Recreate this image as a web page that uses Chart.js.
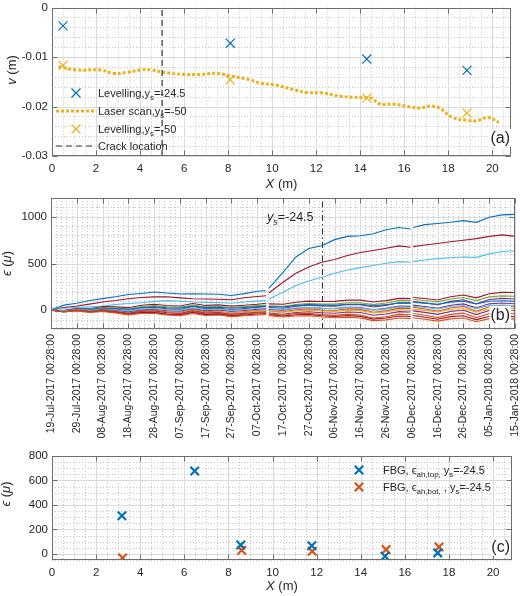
<!DOCTYPE html>
<html>
<head>
<meta charset="utf-8">
<script src="https://cdn.jsdelivr.net/npm/chart.js@4.4.1/dist/chart.umd.min.js"></script>
<style>
  html, body { margin: 0; padding: 0; background: #fff; }
  #wrap { position: relative; width: 520px; height: 596px; }
  #wrap canvas { position: absolute; left: 0; top: 0; }
</style>
</head>
<body>
<div id="wrap">
  <canvas id="chartA" width="520" height="596"></canvas>
  <canvas id="chartB" width="520" height="596"></canvas>
  <canvas id="chartC" width="520" height="596"></canvas>
</div>
<script>
// ---- (a) vertical displacement v along X ----
const levelX = [0.5, 8.1, 14.3, 18.85];
const levelTop = [-0.0037, -0.0072, -0.0104, -0.0127];   // ys = -24.5
const levelBot = [-0.0117, -0.0146, -0.0183, -0.0213];   // ys = -50
const scanX = [0.3, 1.1, 2.2, 2.8, 3.4, 4.0, 4.5, 5.1, 6.0, 6.7, 7.5, 8.2, 9.0, 9.5, 10.1, 11.0,
               11.6, 12.2, 13.1, 14.0, 14.5, 14.9, 15.5, 16.3, 16.7, 17.2, 17.6, 18.2, 18.9, 19.3, 19.8, 20.3];
const scanV = [-0.0119, -0.0126, -0.0126, -0.0133, -0.0131, -0.0126, -0.0126, -0.0131, -0.0135, -0.0135,
               -0.0133, -0.0139, -0.0146, -0.0153, -0.0156, -0.0166, -0.0172, -0.0172, -0.0179, -0.0182,
               -0.0183, -0.0195, -0.0195, -0.0201, -0.0203, -0.0199, -0.0203, -0.0222, -0.0228, -0.0229,
               -0.0222, -0.0232];
const crackX = 5;
const xTicks = [0, 2, 4, 6, 8, 10, 12, 14, 16, 18, 20];
const vTicks = [0, -0.01, -0.02, -0.03];

// ---- (b) strain history, days after 19-Jul-2017 00:28 (null = logger gap) ----
const dateLabels = ['19-Jul-2017 00:28:00', '29-Jul-2017 00:28:00', '08-Aug-2017 00:28:00', '18-Aug-2017 00:28:00',
  '28-Aug-2017 00:28:00', '07-Sep-2017 00:28:00', '17-Sep-2017 00:28:00', '27-Sep-2017 00:28:00',
  '07-Oct-2017 00:28:00', '17-Oct-2017 00:28:00', '27-Oct-2017 00:28:00', '06-Nov-2017 00:28:00',
  '16-Nov-2017 00:28:00', '26-Nov-2017 00:28:00', '06-Dec-2017 00:28:00', '16-Dec-2017 00:28:00',
  '26-Dec-2017 00:28:00', '05-Jan-2018 00:28:00', '15-Jan-2018 00:28:00'];
const days = [0, 5, 10, 15, 20, 25, 30, 35, 40, 45, 50, 55, 60, 65, 70, 75, 80, 83.5, 84, 84.5, 90, 95, 100,
              105, 110, 115, 120, 125, 130, 135, 139.5, 140, 140.5, 145, 150, 155, 160, 165, 170, 175, 180];
const strainA = [5, 55, 75, 105, 125, 145, 168, 180, 195, 185, 174, 176, 174, 172, 158, 178, 203, 209, null, 235,
  406, 570, 660, 690, 755, 790, 797, 818, 860, 885, 869, null, 885, 915, 928, 941, 958, 940, 995, 1020, 1025];
const strainB = [5, 28, 45, 66, 88, 104, 124, 136, 143, 145, 133, 124, 121, 118, 112, 134, 147, 156, null, 185,
  299, 395, 462, 513, 543, 585, 617, 639, 663, 688, 673, null, 680, 697, 714, 732, 748, 766, 790, 806, 790];
const strainC = [5, 22, 30, 36, 45, 60, 72, 80, 95, 103, 98, 88, 85, 84, 76, 88, 98, 103, null, 120,
  192, 265, 312, 353, 395, 430, 456, 478, 503, 520, 513, null, 520, 538, 552, 561, 570, 566, 603, 628, 637];
const s1 = [0, -2, 20, 17, 40, 36, 28, 54, 65, 51, 46, 72, 52, 58, 44, 54, 65, 75, null, 68,
  65, 86, 98, 94, 95, 109, 109, 88, 103, 127, 125, null, 137, 126, 110, 144, 163, 133, 177, 191, 190];
const s2 = [0, -5, 15, 10, 30, 25, 15, 40, 50, 36, 31, 57, 37, 43, 29, 39, 50, 57, null, 49,
  43, 62, 72, 66, 66, 80, 80, 61, 77, 103, 103, null, 115, 104, 90, 121, 137, 103, 143, 154, 150];
const s3 = [0, -9, 11, 2, 22, 13, -3, 24, 32, 15, 9, 40, 16, 23, 6, 18, 31, 40, null, 30,
  22, 44, 55, 47, 45, 62, 60, 35, 52, 81, 79, null, 93, 79, 60, 95, 112, 69, 116, 127, 120];
const s4 = [0, -4, 12, 7, 23, 19, 11, 30, 38, 27, 23, 44, 28, 33, 22, 30, 39, 45, null, 39,
  35, 52, 60, 55, 52, 64, 64, 48, 60, 79, 77, null, 86, 77, 64, 87, 97, 67, 97, 102, 95];
const s5 = [0, -11, 6, -6, 11, 0, -17, 6, 11, -5, -10, 19, -4, 3, -13, -2, 11, 18, null, 9,
  1, 22, 30, 22, 19, 33, 30, 5, 20, 46, 42, null, 55, 41, 22, 54, 68, 27, 69, 78, 70];
const s6 = [0, -8, 8, -1, 14, 6, -6, 14, 19, 6, 2, 26, 7, 13, 0, 9, 20, 25, null, 17,
  9, 24, 29, 22, 18, 29, 25, 4, 15, 36, 32, null, 42, 30, 14, 40, 51, 17, 51, 57, 50];
const s7 = [0, -14, 4, -11, 8, -6, -28, -2, 3, -17, -23, 10, -17, -10, -30, -17, -3, 5, null, -7,
  -18, 5, 13, 3, -2, 15, 10, -21, -6, 23, 18, null, 32, 14, -10, 25, 40, -10, 38, 46, 35];
const s8 = [0, -13, 0, -13, 0, -13, -30, -13, -10, -24, -29, -3, -23, -17, -31, -21, -10, -4, null, -13,
  -22, -6, 0, -8, -12, -1, -5, -28, -17, 5, 1, null, 12, -1, -19, 8, 19, -19, 17, 24, 15];
const s9 = [0, -15, 1, -14, 2, -13, -33, -12, -8, -27, -34, -5, -30, -25, -44, -33, -22, -17, null, -29,
  -42, -23, -16, -27, -32, -19, -24, -53, -39, -14, -19, null, -6, -22, -44, -13, 1, -46, -2, 5, -5];
const s10 = [0, -17, -1, -18, -2, -19, -43, -19, -17, -38, -44, -12, -39, -33, -54, -41, -28, -24, null, -38,
  -53, -35, -31, -46, -54, -41, -50, -83, -69, -41, -47, null, -34, -53, -78, -44, -30, -81, -35, -28, -40];
const s11 = [0, -15, -3, -19, -7, -22, -43, -25, -24, -42, -49, -22, -46, -41, -60, -50, -39, -36, null, -48,
  -61, -47, -44, -58, -66, -57, -65, -94, -83, -61, -67, null, -56, -74, -96, -68, -58, -102, -63, -59, -70];
const s12 = [0, -16, -6, -22, -13, -28, -49, -34, -35, -51, -58, -34, -55, -51, -68, -59, -50, -47, null, -59,
  -72, -61, -59, -72, -80, -74, -82, -110, -102, -83, -89, null, -79, -95, -116, -92, -82, -123, -89, -84, -95];
const crackDay = 105.3;
const strainTicks = [0, 500, 1000];

// ---- (c) FBG strain along X ----
const fbgTopX = [3.17, 6.47, 8.56, 11.78, 15.1, 17.49];
const fbgTop = [311, 678, 73, 67, -19, 8];
const fbgBotX = [3.2, 8.6, 11.8, 15.15, 17.55];
const fbgBot = [-33, 29, 21, 35, 57];
const fbgTicks = [0, 200, 400, 600, 800];

const BLUE = '#0072BD', ORANGE = '#D95319', GOLD = '#EDB120', PURPLE = '#7E2F8E',
      GREEN = '#77AC30', CYAN = '#4DBEEE', WINE = '#A2142F';
const FONT = '"Liberation Sans", Arial, Helvetica, sans-serif';
const INK = '#262626';

Chart.defaults.font.family = FONT;
Chart.defaults.color = INK;

const pts = (xs, ys) => xs.map((v, i) => ({x: v, y: ys[i]}));

function fontFor(st, size) {
  const sub = st.includes('s');
  return (st.includes('i') ? 'italic ' : '') + (sub ? size * 0.72 : size) + 'px ' + FONT;
}
function richWidth(ctx, parts, size) {
  let w = 0;
  parts.forEach(([t, st]) => { ctx.font = fontFor(st, size); w += ctx.measureText(t).width; });
  return w;
}
function drawRich(ctx, parts, x, y, size) {
  let cx = x;
  ctx.textAlign = 'left';
  ctx.textBaseline = 'alphabetic';
  ctx.fillStyle = INK;
  parts.forEach(([t, st]) => {
    ctx.font = fontFor(st, size);
    ctx.fillText(t, cx, st.includes('s') ? y + size * 0.28 : y);
    cx += ctx.measureText(t).width;
  });
}
function drawRichCentered(ctx, parts, cx, y, size) {
  drawRich(ctx, parts, cx - richWidth(ctx, parts, size) / 2, y, size);
}
function drawRichUp(ctx, parts, x, cy, size) {
  const w = richWidth(ctx, parts, size);
  ctx.save();
  ctx.translate(x, cy);
  ctx.rotate(-Math.PI / 2);
  drawRich(ctx, parts, -w / 2, 0, size);
  ctx.restore();
}
function panelTag(ctx, text, x, y) {
  ctx.font = '16px ' + FONT;
  const w = ctx.measureText(text).width;
  ctx.fillStyle = '#fff';
  ctx.fillRect(x - w - 1, y - 14, w + 2, 18);
  ctx.fillStyle = INK;
  ctx.textAlign = 'right';
  ctx.textBaseline = 'alphabetic';
  ctx.fillText(text, x, y);
}
function cross(ctx, x, y, r, color, lw) {
  ctx.save();
  ctx.strokeStyle = color;
  ctx.lineWidth = lw;
  ctx.beginPath();
  ctx.moveTo(x - r, y - r); ctx.lineTo(x + r, y + r);
  ctx.moveTo(x + r, y - r); ctx.lineTo(x - r, y + r);
  ctx.stroke();
  ctx.restore();
}

// matlab style grid (minor dotted, major solid) + box with inward ticks
function framePlugin(xMinor, yMinor) {
  return {
    id: 'frame',
    beforeDatasetsDraw(chart) {
      const {ctx, chartArea: {left, right, top, bottom}, scales: {x, y}} = chart;
      const isMajor = (scale, v, step) => scale.ticks.some(t => Math.abs(t.value - v) < step * 1e-3);
      const vline = v => { const p = Math.round(x.getPixelForValue(v)) + 0.5; ctx.moveTo(p, top); ctx.lineTo(p, bottom); };
      const hline = v => { const p = Math.round(y.getPixelForValue(v)) + 0.5; ctx.moveTo(left, p); ctx.lineTo(right, p); };
      ctx.save();
      ctx.lineWidth = 1;
      ctx.strokeStyle = '#c6c6c6';
      ctx.setLineDash([1, 2]);
      ctx.beginPath();
      for (let i = Math.ceil(x.min / xMinor - 1e-6); i * xMinor <= x.max + 1e-6; i++) {
        if (!isMajor(x, i * xMinor, xMinor)) vline(i * xMinor);
      }
      for (let i = Math.ceil(y.min / yMinor - 1e-6); i * yMinor <= y.max + yMinor * 1e-6; i++) {
        if (!isMajor(y, i * yMinor, yMinor)) hline(i * yMinor);
      }
      ctx.stroke();
      ctx.setLineDash([]);
      ctx.strokeStyle = '#dadada';
      ctx.beginPath();
      x.ticks.forEach(t => vline(t.value));
      y.ticks.forEach(t => hline(t.value));
      ctx.stroke();
      ctx.restore();
    },
    afterDatasetsDraw(chart) {
      const {ctx, chartArea: {left, right, top, bottom}, scales: {x, y}} = chart;
      const L = Math.round(left) + 0.5, R = Math.round(right) - 0.5;
      const T = Math.round(top) + 0.5, B = Math.round(bottom) - 0.5;
      ctx.save();
      ctx.strokeStyle = '#6e6e6e';
      ctx.lineWidth = 1;
      ctx.strokeRect(L, T, R - L, B - T);
      ctx.beginPath();
      x.ticks.forEach(t => {
        const p = Math.round(x.getPixelForValue(t.value)) + 0.5;
        ctx.moveTo(p, T); ctx.lineTo(p, T + 5);
        ctx.moveTo(p, B); ctx.lineTo(p, B - 5);
      });
      y.ticks.forEach(t => {
        const p = Math.round(y.getPixelForValue(t.value)) + 0.5;
        ctx.moveTo(L, p); ctx.lineTo(L + 5, p);
        ctx.moveTo(R, p); ctx.lineTo(R - 5, p);
      });
      ctx.stroke();
      ctx.restore();
    }
  };
}

function axes(o) {
  return {
    x: {
      type: 'linear', min: o.xMin, max: o.xMax,
      afterBuildTicks: s => { s.ticks = o.xTicks.map(v => ({value: v})); },
      afterFit: s => { s.height = o.xHeight; s.paddingLeft = 0; s.paddingRight = 0; },
      grid: {display: false, drawTicks: false},
      border: {display: false},
      ticks: Object.assign({autoSkip: false, maxRotation: 0, padding: 6, color: INK,
        font: {size: 11.5}, callback: v => String(v)}, o.xTickOpts || {})
    },
    y: {
      type: 'linear', min: o.yMin, max: o.yMax,
      afterBuildTicks: s => { s.ticks = o.yTicks.map(v => ({value: v})); },
      afterFit: s => { s.width = o.yWidth; s.paddingTop = 0; s.paddingBottom = 0; },
      grid: {display: false, drawTicks: false},
      border: {display: false},
      ticks: {autoSkip: false, padding: 4, color: INK, font: {size: 11.5},
        callback: o.yFmt || (v => String(v))}
    }
  };
}

const common = {
  responsive: false,
  animation: false,
  devicePixelRatio: 1,
  events: [],
  plugins: {legend: {display: false}, tooltip: {enabled: false}}
};

// ---------- chart (a) ----------
const legendA = [
  {mark: 'x', color: BLUE, y: 93, parts: [['Levelling,y', ''], ['s', 's'], ['=-24.5', '']]},
  {mark: 'dot', color: GOLD, y: 111, parts: [['Laser scan,y', ''], ['s', 's'], ['=-50', '']]},
  {mark: 'x', color: GOLD, y: 129, parts: [['Levelling,y', ''], ['s', 's'], ['=-50', '']]},
  {mark: 'dash', color: '#333', y: 146, parts: [['Crack location', '']]}
];
const decorA = {
  id: 'decorA',
  afterDatasetsDraw(chart) {
    const {ctx, chartArea: {left, right}} = chart;
    legendA.forEach(e => {
      if (e.mark === 'x') {
        cross(ctx, 76, e.y, 4.5, e.color, 1.2);
      } else {
        ctx.save();
        ctx.strokeStyle = e.color;
        ctx.lineWidth = e.mark === 'dot' ? 3 : 1.2;
        ctx.setLineDash(e.mark === 'dot' ? [3, 2] : [6, 4]);
        ctx.beginPath(); ctx.moveTo(56, e.y); ctx.lineTo(94, e.y); ctx.stroke();
        ctx.restore();
      }
      drawRich(ctx, e.parts, 98, e.y + 4, 11);
    });
    panelTag(ctx, '(a)', 510, 143);
    drawRichUp(ctx, [['v', 'i'], [' (m)', '']], 16, 70, 13);
    drawRichCentered(ctx, [['X', 'i'], [' (m)', '']], (left + right) / 2, 188, 13);
  }
};

new Chart(document.getElementById('chartA'), {
  type: 'scatter',
  data: {
    datasets: [
      {data: [{x: crackX, y: -0.03}, {x: crackX, y: 0}], showLine: true, pointRadius: 0,
       borderColor: '#333', borderWidth: 1.2, borderDash: [6, 4]},
      {data: pts(scanX, scanV), showLine: true, pointRadius: 0, tension: 0.4,
       borderColor: GOLD, borderWidth: 3, borderDash: [3, 2], borderCapStyle: 'butt'},
      {data: pts(levelX, levelTop), pointStyle: 'crossRot', pointRadius: 6.4,
       pointBorderWidth: 1.2, pointBorderColor: BLUE, pointBackgroundColor: BLUE},
      {data: pts(levelX, levelBot), pointStyle: 'crossRot', pointRadius: 6.4,
       pointBorderWidth: 1.2, pointBorderColor: GOLD, pointBackgroundColor: GOLD}
    ]
  },
  options: Object.assign({}, common, {
    layout: {padding: {left: 0, top: 5, right: 9, bottom: 400}},
    scales: axes({xMin: 0, xMax: 20.85, xTicks: xTicks, xHeight: 40,
      yMin: -0.03, yMax: 0, yTicks: vTicks, yWidth: 52,
      yFmt: v => (Math.abs(v) < 1e-9 ? '0' : v.toFixed(2))})
  }),
  plugins: [framePlugin(0.5, 0.002), decorA]
});

// ---------- chart (b) ----------
const strainSeries = [s12, s11, s10, s9, s8, s7, s6, s5, s4, s3, s2, s1, strainC, strainB, strainA];
const strainColors = [ORANGE, WINE, ORANGE, PURPLE, GOLD, ORANGE, CYAN, PURPLE, BLUE, PURPLE, GREEN, WINE,
                      CYAN, WINE, BLUE];
const decorB = {
  id: 'decorB',
  afterDatasetsDraw(chart) {
    const {ctx, chartArea: {top, bottom}} = chart;
    drawRich(ctx, [['y', 'i'], ['s', 'si'], ['=-24.5', '']], 267, 221, 12.5);
    panelTag(ctx, '(b)', 510, 320);
    drawRichUp(ctx, [['\u03F5', 'i'], [' (', ''], ['\u03BC', 'i'], [')', '']], 11, (top + bottom) / 2, 13);
  }
};
const dsB = strainSeries.map((vals, i) => ({
  data: pts(days, vals), showLine: true, pointRadius: 0, spanGaps: false,
  borderColor: strainColors[i], borderWidth: 1.1
}));
dsB.push({data: [{x: crackDay, y: -200}, {x: crackDay, y: 1200}], showLine: true, pointRadius: 0,
  borderColor: '#222', borderWidth: 1, borderDash: [6, 3, 1.5, 3]});

new Chart(document.getElementById('chartB'), {
  type: 'scatter',
  data: {datasets: dsB},
  options: Object.assign({}, common, {
    layout: {padding: {left: 0, top: 198, right: 5, bottom: 157}},
    scales: axes({xMin: 0, xMax: 180, xTicks: dateLabels.map((_, i) => i * 10), xHeight: 110,
      xTickOpts: {minRotation: 90, maxRotation: 90, padding: 5, font: {size: 10.5},
        callback: v => dateLabels[Math.round(v / 10)]},
      yMin: -200, yMax: 1200, yTicks: strainTicks, yWidth: 51})
  }),
  plugins: [framePlugin(2, 100), decorB]
});

// ---------- chart (c) ----------
const legendC = [
  {color: BLUE, y: 470, parts: [['FBG, \u03F5', ''], ['ah,top,', 's'], [' y', ''], ['s', 's'], ['=-24.5', '']]},
  {color: ORANGE, y: 487, parts: [['FBG, \u03F5', ''], ['ah,bot,', 's'], [' , y', ''], ['s', 's'], ['=-24.5', '']]}
];
const decorC = {
  id: 'decorC',
  afterDatasetsDraw(chart) {
    const {ctx, chartArea: {left, right}} = chart;
    legendC.forEach(e => {
      cross(ctx, 359, e.y, 4.2, e.color, 2.2);
      drawRich(ctx, e.parts, 383, e.y + 4, 11);
    });
    panelTag(ctx, '(c)', 510, 552);
    drawRichUp(ctx, [['\u03F5', 'i'], [' (', ''], ['\u03BC', 'i'], [')', '']], 10, 494, 13);
    drawRichCentered(ctx, [['X', 'i'], [' (m)', '']], (left + right) / 2, 590, 13);
  }
};

new Chart(document.getElementById('chartC'), {
  type: 'scatter',
  data: {
    datasets: [
      {data: pts(fbgTopX, fbgTop), pointStyle: 'crossRot', pointRadius: 6,
       pointBorderWidth: 2.2, pointBorderColor: BLUE, pointBackgroundColor: BLUE},
      {data: pts(fbgBotX, fbgBot), pointStyle: 'crossRot', pointRadius: 6,
       pointBorderWidth: 2.2, pointBorderColor: ORANGE, pointBackgroundColor: ORANGE}
    ]
  },
  options: Object.assign({}, common, {
    layout: {padding: {left: 0, top: 456, right: 8, bottom: 0}},
    scales: axes({xMin: 0, xMax: 20.85, xTicks: xTicks, xHeight: 36,
      yMin: -50, yMax: 800, yTicks: fbgTicks, yWidth: 52})
  }),
  plugins: [framePlugin(0.5, 50), decorC]
});
</script>
</body>
</html>
